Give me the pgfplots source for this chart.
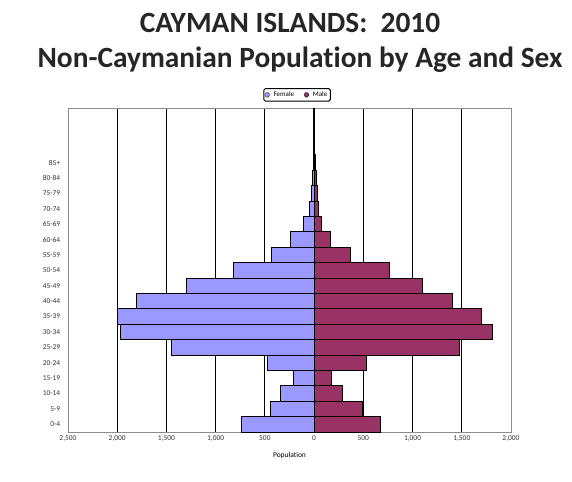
\documentclass[border=0pt]{standalone}
\usepackage{fontspec}
\setmainfont{Carlito}[Ligatures=NoCommon]
\usepackage{pgfplots}
\pgfplotsset{compat=1.18}
\definecolor{female}{RGB}{153,153,255}
\definecolor{male}{RGB}{153,51,102}
\begin{document}
\begin{tikzpicture}
\begin{axis}[
  at={(0,0)}, anchor=south west,
  scale only axis,
  width=443bp, height=324bp,
  xbar, bar width=1, bar shift=0,
  xmin=-2500, xmax=2000,
  ymin=-0.5, ymax=20.54,
  xtick={-2500,-2000,...,2000},
  xticklabels={{2,500},{2,000},{1,500},{1,000},500,0,500,{1,000},{1,500},{2,000}},
  ytick={0,...,17},
  yticklabels={0-4,5-9,10-14,15-19,20-24,25-29,30-34,35-39,40-44,45-49,50-54,55-59,60-64,65-69,70-74,75-79,80-84,85+},
  ticklabel style={font=\fontsize{7.5}{8}\selectfont, text=black!80},
  ytick style={draw=none},
  xtick style={black, thick},
  xmajorgrids,
  grid style={black, line width=0.8pt},
  extra x ticks={0},
  extra x tick labels={},
  extra x tick style={grid style={black, line width=1.4pt}},
  axis line style={black!45, line width=0.8pt},
  xlabel={Population},
  xlabel style={font=\fontsize{7.5}{8}\selectfont, yshift=-4bp},
  legend columns=2,
  legend style={at={(0.517,1.02)}, anchor=south, font=\fontsize{7}{8}\selectfont,
    draw=black, line width=1pt, rounded corners=1.5pt, inner sep=1pt,
    /tikz/every odd column/.append style={column sep=2pt},
    /tikz/every even column/.append style={column sep=8pt}},
  legend image code/.code={\draw[#1, line width=0.3pt, draw=black] (0cm,-0.08cm) rectangle (0.16cm,0.08cm);},
]
\addplot[fill=female, draw=black, line width=0.8pt] coordinates {
(-735,0) (-440,1) (-338,2) (-210,3) (-475,4) (-1446,5) (-1971,6) (-1999,7) (-1806,8)
(-1298,9) (-820,10) (-434,11) (-244,12) (-109,13) (-45,14) (-25,15) (-15,16) (-10,17)
};
\addlegendentry{Female}
\addplot[fill=male, draw=black, line width=0.8pt] coordinates {
(675,0) (490,1) (290,2) (180,3) (535,4) (1474,5) (1806,6) (1700,7) (1406,8)
(1101,9) (769,10) (373,11) (163,12) (78,13) (44,14) (30,15) (20,16) (12,17)
};
\addlegendentry{Male}
\end{axis}
\node[font=\bfseries\fontsize{29.5}{32}\selectfont, text=black!85] at (222bp,409bp) {CAYMAN ISLANDS:\ \ 2010};
\node[font=\bfseries\fontsize{29.5}{32}\selectfont, text=black!85] at (232bp,372bp) {Non-Caymanian Population by Age and Sex};
\path[use as bounding box] (-68bp,-50bp) rectangle (504bp,432bp);
\end{tikzpicture}
\end{document}
